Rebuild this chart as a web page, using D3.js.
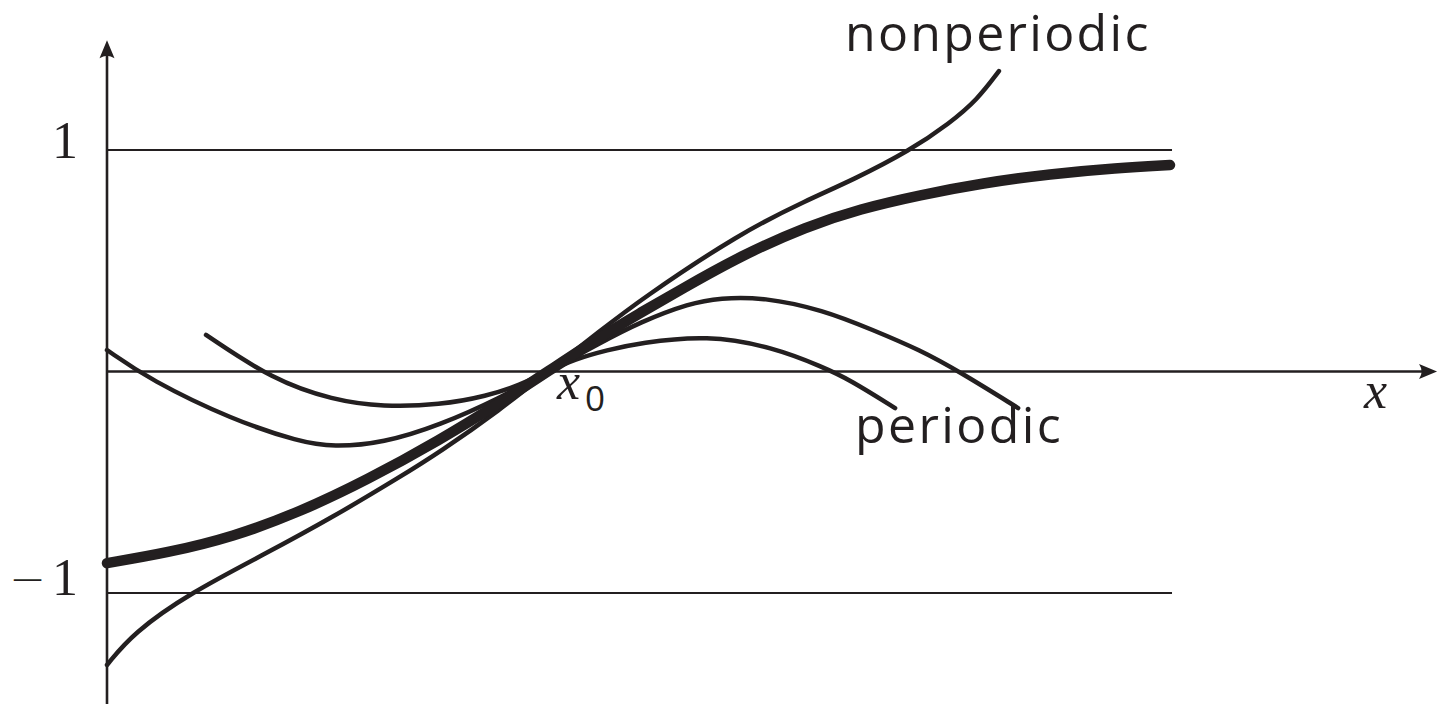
<!DOCTYPE html>
<html>
<head>
<meta charset="utf-8">
<script src="https://cdn.jsdelivr.net/npm/d3@7"></script>
<style>
  body { margin: 0; background: #fff; }
  svg { display: block; }
</style>
</head>
<body>
<div id="main"></div>
<script>
// values; x0 sits at x = 2
const limitCurve = [
  [0, -0.865], [0.272, -0.819], [0.571, -0.747], [0.875, -0.634], [1.179, -0.490],
  [1.510, -0.309], [1.782, -0.142], [2, 0], [2.236, 0.156], [2.417, 0.264],
  [2.599, 0.368], [2.871, 0.521], [3.175, 0.656], [3.415, 0.734], [3.687, 0.797],
  [3.973, 0.851], [4.277, 0.892], [4.580, 0.919], [4.821, 0.932]
];

const nonperiodicCurve = [
  [0, -1.325], [0.118, -1.181], [0.376, -1.0], [0.726, -0.819], [1.025, -0.657],
  [1.329, -0.476], [1.510, -0.363], [1.782, -0.174], [2, 0], [2.236, 0.183],
  [2.417, 0.323], [2.871, 0.625], [3.175, 0.774], [3.383, 0.865], [3.642, 0.998],
  [3.823, 1.122], [3.946, 1.226], [4.045, 1.356]
];

const periodicWide = [
  [0, 0.097], [0.195, -0.038], [0.571, -0.219], [0.875, -0.318], [1.025, -0.341],
  [1.252, -0.323], [1.510, -0.242], [1.782, -0.120], [2, 0], [2.236, 0.129],
  [2.417, 0.223], [2.644, 0.309], [2.780, 0.332], [2.975, 0.336], [3.247, 0.278],
  [3.474, 0.187], [3.687, 0.097], [3.868, -0.002], [4.132, -0.165]
];

const periodicNarrow = [
  [0.449, 0.165], [0.753, -0.038], [1.025, -0.129], [1.252, -0.160], [1.510, -0.151],
  [1.723, -0.111], [1.873, -0.061], [2, 0], [2.122, 0.056], [2.268, 0.097],
  [2.417, 0.129], [2.721, 0.165], [3.020, 0.110], [3.247, 0.020], [3.370, -0.038],
  [3.574, -0.165]
];

const yTickValues = [1, -1];
const yTickLabels = ["1", "\u22121"];
const boundLines = [1, -1];
const x0Value = 2;
const xEndBound = 4.830;
const xAxisEnd = 6.032;
const yAxisMin = -1.51, yAxisMax = 1.495;

const width = 1447;
const height = 704;
const ink = "#231f20";

const x = d3.scaleLinear().domain([0, 2]).range([107, 548]);
const y = d3.scaleLinear().domain([-1, 1]).range([593, 150]);

const svg = d3.select("#main").append("svg")
    .attr("width", width)
    .attr("height", height);

// bounds at +1 and -1
svg.append("g")
  .selectAll("line")
  .data(boundLines)
  .enter()
  .append("line")
  .attr("x1", x(0))
  .attr("x2", x(xEndBound))
  .attr("y1", d => y(d))
  .attr("y2", d => y(d))
  .attr("stroke", ink)
  .attr("stroke-width", 2.2);

// axes
svg.append("line")
  .attr("x1", x(0)).attr("x2", x(xAxisEnd) - 8)
  .attr("y1", y(0)).attr("y2", y(0))
  .attr("stroke", ink).attr("stroke-width", 2.6);

svg.append("line")
  .attr("x1", x(0)).attr("x2", x(0))
  .attr("y1", y(yAxisMin)).attr("y2", y(yAxisMax) + 8)
  .attr("stroke", ink).attr("stroke-width", 2.6);

function arrow(tx, ty, angle) {
  // tip at (0,0) pointing right, then rotated
  svg.append("path")
    .attr("d", "M0,0 L-18,-7.5 Q-13,0 -18,7.5 Z")
    .attr("fill", ink)
    .attr("transform", `translate(${tx},${ty}) rotate(${angle})`);
}
arrow(x(xAxisEnd), y(0), 0);
arrow(x(0), y(yAxisMax), -90);

// curves (basis smooths out reading noise, keeps end points)
const line = d3.line()
  .x(d => x(d[0]))
  .y(d => y(d[1]))
  .curve(d3.curveBasis);

const thin = [nonperiodicCurve, periodicWide, periodicNarrow];

svg.append("g")
  .selectAll("path")
  .data(thin)
  .enter()
  .append("path")
  .attr("d", line)
  .attr("fill", "none")
  .attr("stroke", ink)
  .attr("stroke-width", 4.5)
  .attr("stroke-linecap", "round");

svg.append("path")
  .datum(limitCurve)
  .attr("d", line)
  .attr("fill", "none")
  .attr("stroke", ink)
  .attr("stroke-width", 10.5)
  .attr("stroke-linecap", "round");

// y tick labels
const ticks = svg.append("g")
  .selectAll("text")
  .data(yTickValues)
  .enter()
  .append("text")
  .attr("x", 78)
  .attr("y", d => y(d) + (d > 0 ? 8 : 2))
  .attr("text-anchor", "end")
  .attr("font-family", "'Liberation Serif', 'DejaVu Serif', serif")
  .attr("font-size", 52)
  .attr("fill", ink);

ticks.each(function(d, i) {
  const label = yTickLabels[i];
  const t = d3.select(this);
  if (label[0] === "\u2212") {
    t.append("tspan")
      .attr("font-family", "'DejaVu Sans', sans-serif")
      .attr("font-weight", 300)
      .attr("font-size", 44)
      .attr("dy", -1)
      .text("\u2212");
    t.append("tspan").attr("dx", 6).attr("dy", 1).text(label.slice(1));
  } else {
    t.text(label);
  }
});

// x0 label
const x0Label = svg.append("text")
  .attr("x", x(x0Value) + 9)
  .attr("y", y(0) + 27)
  .attr("fill", ink);
x0Label.append("tspan")
  .attr("font-family", "'Liberation Serif', serif")
  .attr("font-style", "italic")
  .attr("font-size", 52)
  .text("x");
x0Label.append("tspan")
  .attr("font-family", "'Open Sans', sans-serif")
  .attr("font-size", 35)
  .attr("dx", 5)
  .attr("dy", 12)
  .text("0");

// axis name
svg.append("text")
  .attr("x", 1364)
  .attr("y", 408)
  .attr("font-family", "'Liberation Serif', serif")
  .attr("font-style", "italic")
  .attr("font-size", 52)
  .attr("fill", ink)
  .text("x");

// curve names
svg.append("text")
  .attr("x", 845)
  .attr("y", 51)
  .attr("font-family", "'Open Sans', sans-serif")
  .attr("font-size", 50)
  .attr("letter-spacing", 2.3)
  .attr("fill", ink)
  .text("nonperiodic");

svg.append("text")
  .attr("x", 855)
  .attr("y", 443)
  .attr("font-family", "'Open Sans', sans-serif")
  .attr("font-size", 50)
  .attr("letter-spacing", 2.4)
  .attr("fill", ink)
  .text("periodic");
</script>
</body>
</html>
